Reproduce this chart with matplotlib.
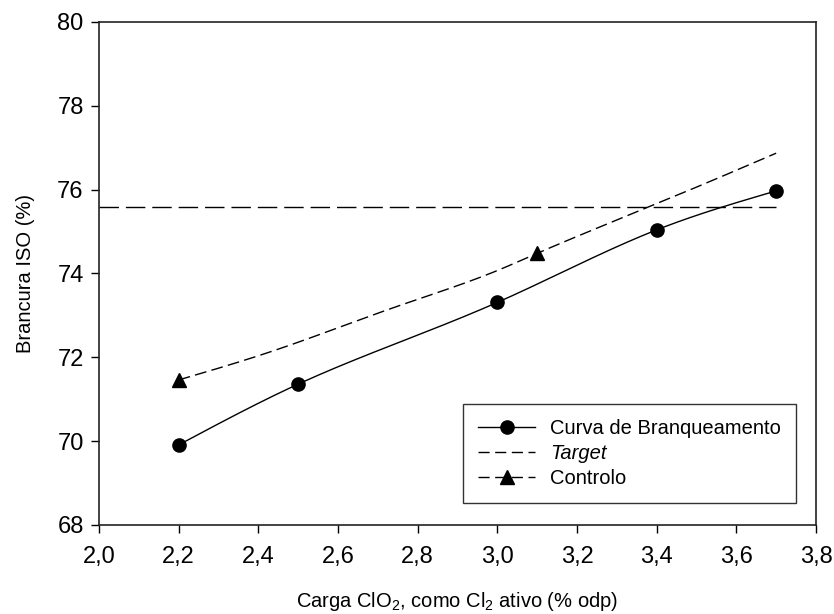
import numpy as np
import matplotlib
matplotlib.use("Agg")
import matplotlib.pyplot as plt
from matplotlib.lines import Line2D

plt.rcParams['font.family'] = ['Liberation Sans', 'DejaVu Sans']
plt.rcParams['mathtext.fontset'] = 'custom'
plt.rcParams['mathtext.rm'] = 'Liberation Sans'
plt.rcParams['mathtext.it'] = 'Liberation Sans:italic'
plt.rcParams['lines.scale_dashes'] = False

# Bleaching curve (measured points)
curva_x = [2.2, 2.5, 3.0, 3.4, 3.7]
curva_y = [69.91, 71.36, 73.31, 75.04, 75.97]

# Target brightness
target_x = [2.0, 3.7]
target_y = [75.58, 75.58]

# Control points and their trend line
controlo_x = [2.2, 3.1]
controlo_y = [71.46, 74.50]
controlo_trend_x = [2.2, 2.43, 2.75, 3.0, 3.1, 3.26, 3.51, 3.7]
controlo_trend_y = [71.46, 72.13, 73.22, 74.07, 74.48, 75.12, 76.10, 76.87]

x_ticks = [2.0, 2.2, 2.4, 2.6, 2.8, 3.0, 3.2, 3.4, 3.6, 3.8]
y_ticks = [68, 70, 72, 74, 76, 78, 80]


def natural_spline(x, y, n=200):
    """Smooth natural cubic spline through the given points."""
    x = np.asarray(x, float)
    y = np.asarray(y, float)
    k = len(x)
    h = np.diff(x)
    A = np.zeros((k, k))
    b = np.zeros(k)
    A[0, 0] = A[-1, -1] = 1.0
    for i in range(1, k - 1):
        A[i, i - 1] = h[i - 1]
        A[i, i] = 2 * (h[i - 1] + h[i])
        A[i, i + 1] = h[i]
        b[i] = 6 * ((y[i + 1] - y[i]) / h[i] - (y[i] - y[i - 1]) / h[i - 1])
    m = np.linalg.solve(A, b)
    xs = np.linspace(x[0], x[-1], n)
    idx = np.clip(np.searchsorted(x, xs) - 1, 0, k - 2)
    x0, x1 = x[idx], x[idx + 1]
    y0, y1 = y[idx], y[idx + 1]
    m0, m1 = m[idx], m[idx + 1]
    hh = x1 - x0
    t0 = x1 - xs
    t1 = xs - x0
    ys = (m0 * t0 ** 3 / (6 * hh) + m1 * t1 ** 3 / (6 * hh)
          + (y0 / hh - m0 * hh / 6) * t0 + (y1 / hh - m1 * hh / 6) * t1)
    return xs, ys


fig = plt.figure(figsize=(8.34, 6.14), dpi=100)
ax = fig.add_axes([0.1187, 0.145, 0.8597, 0.8192])

sx, sy = natural_spline(curva_x, curva_y)
ax.plot(sx, sy, color='black', lw=1.0, solid_capstyle='butt')
ax.plot(curva_x, curva_y, 'o', color='black', ms=9.5, zorder=5)

ax.plot(target_x, target_y, color='black', lw=1.0, dashes=(14, 5))

tx, ty = natural_spline(controlo_trend_x, controlo_trend_y)
ax.plot(tx, ty, color='black', lw=1.0, dashes=(8.5, 3.8))
ax.plot(controlo_x, controlo_y, '^', color='black', ms=10, zorder=5)

ax.set_xlim(2.0, 3.8)
ax.set_ylim(68, 80)
ax.set_xticks(x_ticks)
ax.set_yticks(y_ticks)
ax.set_xticklabels([f"{v:.1f}".replace('.', ',') for v in x_ticks])
ax.set_yticklabels([str(v) for v in y_ticks])
ax.tick_params(direction='out', length=6, width=1.0, labelsize=17,
               top=False, right=False)
ax.tick_params(axis='x', pad=9)
ax.tick_params(axis='y', pad=5)
for s in ax.spines.values():
    s.set_linewidth(1.2)
    s.set_color('#222222')

ax.set_xlabel("Carga ClO$_2$, como Cl$_2$ ativo (% odp)", fontsize=14.5, labelpad=16)
ax.set_ylabel("Brancura ISO (%)", fontsize=14.5, labelpad=16)

handles = [
    Line2D([], [], color='black', lw=1.0, marker='o', ms=9.5),
    Line2D([], [], color='black', lw=1.0, dashes=(8, 4)),
    Line2D([], [], color='black', lw=1.0, dashes=(8, 4), marker='^', ms=10),
]
labels = ["Curva de Branqueamento", "Target", "Controlo"]
leg = ax.legend(handles, labels, loc='lower right', bbox_to_anchor=(0.972, 0.044),
                borderaxespad=0, fontsize=14.5, frameon=True, fancybox=False,
                edgecolor='black', handlelength=2.8, handletextpad=0.75,
                labelspacing=0.28, borderpad=0.75)
leg.get_frame().set_linewidth(1.0)
leg.get_texts()[1].set_fontstyle('italic')

fig.savefig("out.png", dpi=100)
